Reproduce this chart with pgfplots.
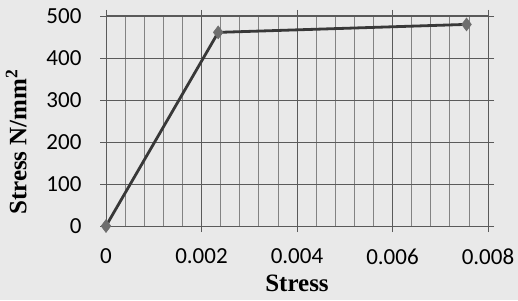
\documentclass[border=0pt]{standalone}
\usepackage{pgfplots}
\pgfplotsset{compat=1.18}
\usepackage{fontspec}
\setmainfont{Liberation Serif}
\newfontfamily\tickfont{Carlito}
\definecolor{bg}{HTML}{E9E9E9}
\definecolor{gridc}{HTML}{5A5A5A}
\definecolor{linec}{HTML}{383838}
\definecolor{markc}{HTML}{6E6E6E}
\begin{document}
\begin{tikzpicture}[x=1pt,y=1pt]
\fill[bg] (0,0) rectangle (518,300);
\useasboundingbox (0,0) rectangle (518,300);
\begin{axis}[
  at={(106pt,74pt)}, anchor=south west,
  scale only axis, width=382pt, height=210pt,
  xmin=0, xmax=0.008, ymin=0, ymax=500,
  xtick={0,0.002,0.004,0.006,0.008},
  minor x tick num=4,
  ytick={0,100,200,300,400,500},
  xmajorgrids, xminorgrids, ymajorgrids,
  major grid style={gridc, line width=0.9pt},
  minor grid style={gridc!75, line width=0.7pt},
  axis line style={gridc, line width=1pt},
  tick style={gridc, line width=0.9pt},
  major tick length=6pt, minor tick length=0pt,
  tick align=outside,
  xticklabel style={font=\tickfont\fontsize{23}{23}\selectfont, yshift=-13pt},
  yticklabel style={font=\tickfont\fontsize{23}{23}\selectfont, xshift=-15pt},
  /pgf/number format/assume math mode=true,
  x tick label style={/pgf/number format/.cd, fixed, precision=3, /tikz/.cd},
  scaled x ticks=false,
  xlabel={\bfseries\fontsize{25}{25}\selectfont Stress},
  ylabel={\bfseries\fontsize{25}{25}\selectfont Stress N/mm\textsuperscript{2}},
  xlabel style={yshift=-6pt, inner sep=1pt},
  ylabel style={at={(ticklabel cs:0.4)}, yshift=13pt},
  clip=false,
]
\addplot[color=linec, line width=2.8pt, mark=diamond*, mark size=6.5pt,
  mark options={fill=markc, draw=markc, line width=0.5pt}]
  coordinates {(0,0) (0.00235,461) (0.00755,480)};
\end{axis}
\end{tikzpicture}
\end{document}
